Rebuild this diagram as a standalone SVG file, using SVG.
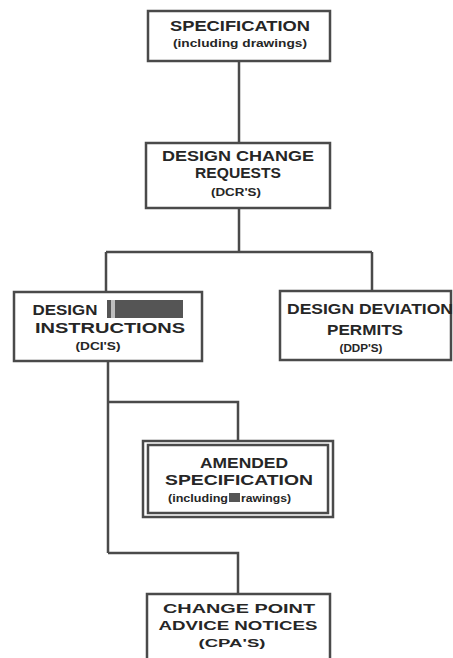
<svg xmlns="http://www.w3.org/2000/svg" width="453" height="658" viewBox="0 0 453 658">
<style>
.box{fill:none;stroke:#4a4a4a;stroke-width:2.5}
.ln{fill:none;stroke:#4a4a4a;stroke-width:2.5}
.t{font-family:"Liberation Sans",Arial,sans-serif;font-weight:bold;fill:#262626;text-anchor:middle}
.b{font-size:15px}
.c{font-size:13px}
.s{font-size:10px}
.m{font-size:11px}
.smudge{fill:#555}
</style>
<rect width="453" height="658" fill="#ffffff"/>
<g id="connectors">
<path class="ln" d="M239 61 V143"/>
<path class="ln" d="M239 208 V252 M106 252 H372 M106 252 V292 M372 252 V291"/>
<path class="ln" d="M108 361 V553 M108 402 H238 V441 M108 553 H238 V594"/>
</g>
<g id="spec">
<rect class="box" x="148" y="11" width="182" height="50"/>
<text class="t b" x="240" y="31" textLength="140" lengthAdjust="spacingAndGlyphs">SPECIFICATION</text>
<text class="t s" x="240" y="47" textLength="134" lengthAdjust="spacingAndGlyphs">(including drawings)</text>
</g>
<g id="dcr">
<rect class="box" x="146" y="143" width="184" height="65"/>
<text class="t b" x="238" y="161" textLength="152" lengthAdjust="spacingAndGlyphs">DESIGN CHANGE</text>
<text class="t b" x="238" y="178" textLength="86" lengthAdjust="spacingAndGlyphs">REQUESTS</text>
<text class="t m" x="236" y="196" textLength="50" lengthAdjust="spacingAndGlyphs">(DCR'S)</text>
</g>
<g id="dci">
<rect class="box" x="14" y="292" width="188" height="69"/>
<text class="t b" x="65" y="315" textLength="65" lengthAdjust="spacingAndGlyphs">DESIGN</text>
<rect class="smudge" x="107" y="300" width="76" height="18"/>
<rect x="111" y="300" width="4" height="18" fill="#bdbdbd"/>
<text class="t b" x="110" y="333" textLength="150" lengthAdjust="spacingAndGlyphs">INSTRUCTIONS</text>
<text class="t m" x="98" y="350" textLength="45" lengthAdjust="spacingAndGlyphs">(DCI'S)</text>
</g>
<g id="ddp">
<rect class="box" x="280" y="291" width="171" height="69"/>
<text class="t b" x="370" y="314" textLength="166" lengthAdjust="spacingAndGlyphs">DESIGN DEVIATION</text>
<text class="t b" x="365" y="335" textLength="76" lengthAdjust="spacingAndGlyphs">PERMITS</text>
<text class="t m" x="361" y="352" textLength="43" lengthAdjust="spacingAndGlyphs">(DDP'S)</text>
</g>
<g id="amended">
<rect class="box" x="143" y="441" width="190" height="76"/>
<rect class="box" x="148" y="445" width="180" height="68" stroke-width="1.5"/>
<text class="t b" x="244" y="468" textLength="88" lengthAdjust="spacingAndGlyphs">AMENDED</text>
<text class="t b" x="239" y="485" textLength="148" lengthAdjust="spacingAndGlyphs">SPECIFICATION</text>
<text class="t s" x="198" y="502" textLength="60" lengthAdjust="spacingAndGlyphs">(including</text>
<rect class="smudge" x="229" y="493" width="11" height="9" fill="#666"/>
<text class="t s" x="266" y="502" textLength="50" lengthAdjust="spacingAndGlyphs">rawings)</text>
</g>
<g id="cpa">
<rect class="box" x="147" y="594" width="183" height="66"/>
<text class="t c" x="239" y="613" textLength="152" lengthAdjust="spacingAndGlyphs">CHANGE POINT</text>
<text class="t c" x="238" y="630" textLength="159" lengthAdjust="spacingAndGlyphs">ADVICE NOTICES</text>
<text class="t m" x="232" y="647" textLength="67" lengthAdjust="spacingAndGlyphs">(CPA'S)</text>
</g>
</svg>
